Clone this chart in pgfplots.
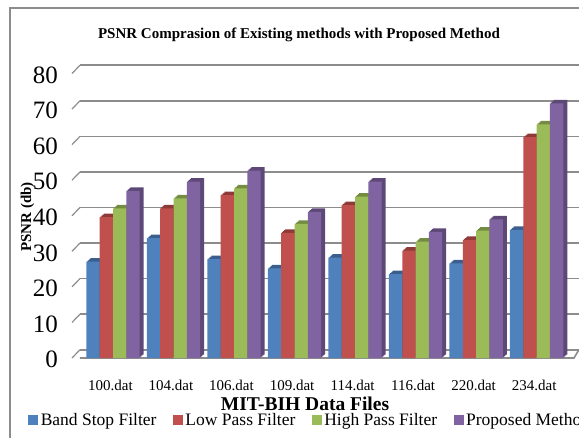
\documentclass[border=0pt]{standalone}
\usepackage{pgfplots}
\usepackage{pgfplotstable}
\pgfplotsset{compat=1.18}
\usepackage{fontspec}
\setmainfont{Liberation Serif}
\definecolor{cB}{HTML}{4F81BD}
\definecolor{cBd}{HTML}{3A5F8E}
\definecolor{cR}{HTML}{C0504D}
\definecolor{cRd}{HTML}{8E3A38}
\definecolor{cG}{HTML}{9BBB59}
\definecolor{cGd}{HTML}{738C41}
\definecolor{cP}{HTML}{8064A2}
\definecolor{cPd}{HTML}{5D4878}
\definecolor{gridc}{HTML}{8C8C8C}
\pgfplotstableread{
x band low high prop
0 27.1 39.6 42.1 47.0
1 33.7 42.1 44.9 49.6
2 27.8 45.8 47.7 52.7
3 25.2 35.2 37.7 41.1
4 28.2 43.0 45.4 49.6
5 23.6 30.2 32.7 35.5
6 26.6 33.2 35.8 39.0
7 36.0 62.1 65.7 71.6
}\datatable
\pgfplotsset{
  shade/.style args={#1/#2/#3}{fill=#1, draw=none, forget plot, bar shift={#2+#3*1pt}, yshift={#3*0.875pt}},
}
\begin{document}
\begin{tikzpicture}
\path[use as bounding box] (-80pt,-79pt) rectangle (499pt,358pt);
\begin{axis}[
  at={(0,0)}, anchor=south west,
  scale only axis, width=499pt, height=284.5pt,
  xmin=-0.545, xmax=7.70, ymin=0, ymax=80,
  ybar, bar width=13.3pt,
  clip=false,
  axis line style={draw=none},
  major tick length=0pt,
  xtick={0,...,7},
  xticklabels={100.dat,104.dat,106.dat,109.dat,114.dat,116.dat,220.dat,234.dat},
  ytick={0,10,...,80},
  /pgf/number format/assume math mode=true,
  xticklabel style={font=\fontsize{15}{18}\selectfont, anchor=center, inner sep=0pt, yshift=-27.5pt, xshift=-2.5pt},
  yticklabel style={font=\fontsize{25}{30}\selectfont, anchor=east, inner sep=0pt, xshift=-22pt, yshift=-1.5pt},
  legend columns=4,
  legend image code/.code={\fill (0pt,-5pt) rectangle (10pt,5pt);},
  legend style={at={(-0.104,-0.219)}, anchor=west, draw=none, fill=none, inner sep=0pt,
    font=\fontsize{17.5}{20}\selectfont, nodes={inner sep=0.5pt},
    /tikz/every odd column/.append style={column sep=2pt},
    /tikz/every even column/.append style={column sep=16pt}},
]
\pgfplotsinvokeforeach{0,10,...,80}{
  \draw[gridc, line width=1.6pt] ([yshift=8.3pt]axis cs:-0.545,#1) -- ([yshift=8.3pt]axis cs:7.70,#1);
  \draw[gridc, line width=1.2pt] ([xshift=-8pt]axis cs:-0.545,#1) -- ([yshift=8.3pt]axis cs:-0.545,#1);
}
\draw[gridc, line width=1.6pt] (axis cs:-0.545,0) -- ([xshift=-5pt]axis cs:7.70,0) -- ([yshift=8.3pt]axis cs:7.70,0);
% Band Stop
\addplot[shade={cBd/-20pt/4}] table[x=x,y=band]{\datatable};
\addplot[shade={cBd/-20pt/3}] table[x=x,y=band]{\datatable};
\addplot[shade={cBd/-20pt/2}] table[x=x,y=band]{\datatable};
\addplot[shade={cBd/-20pt/1}] table[x=x,y=band]{\datatable};
\addplot[fill=cB, draw=none, bar shift=-20pt] table[x=x,y=band]{\datatable};
% Low Pass
\addplot[shade={cRd/-6.67pt/4}] table[x=x,y=low]{\datatable};
\addplot[shade={cRd/-6.67pt/3}] table[x=x,y=low]{\datatable};
\addplot[shade={cRd/-6.67pt/2}] table[x=x,y=low]{\datatable};
\addplot[shade={cRd/-6.67pt/1}] table[x=x,y=low]{\datatable};
\addplot[fill=cR, draw=none, bar shift=-6.67pt] table[x=x,y=low]{\datatable};
% High Pass
\addplot[shade={cGd/6.67pt/4}] table[x=x,y=high]{\datatable};
\addplot[shade={cGd/6.67pt/3}] table[x=x,y=high]{\datatable};
\addplot[shade={cGd/6.67pt/2}] table[x=x,y=high]{\datatable};
\addplot[shade={cGd/6.67pt/1}] table[x=x,y=high]{\datatable};
\addplot[fill=cG, draw=none, bar shift=6.67pt] table[x=x,y=high]{\datatable};
% Proposed
\addplot[shade={cPd/20pt/4}] table[x=x,y=prop]{\datatable};
\addplot[shade={cPd/20pt/3}] table[x=x,y=prop]{\datatable};
\addplot[shade={cPd/20pt/2}] table[x=x,y=prop]{\datatable};
\addplot[shade={cPd/20pt/1}] table[x=x,y=prop]{\datatable};
\addplot[fill=cP, draw=none, bar shift=20pt] table[x=x,y=prop]{\datatable};
\legend{Band Stop Filter, Low Pass Filter, High Pass Filter, Proposed Method}
\end{axis}
\node[font=\bfseries\fontsize{15}{17}\selectfont] at (219pt,323pt) {PSNR Comprasion of Existing methods with Proposed Method};
\node[font=\bfseries\fontsize{19.5}{23}\selectfont, anchor=base, inner sep=0pt] at (225pt,-52pt) {MIT-BIH Data Files};
\node[rotate=90, font=\bfseries\fontsize{15}{17}\selectfont] at (-52.5pt,141pt) {PSNR (db)};
\draw[gridc, line width=1.2pt] (-70pt,350pt) rectangle (540pt,-120pt);
\end{tikzpicture}
\end{document}
